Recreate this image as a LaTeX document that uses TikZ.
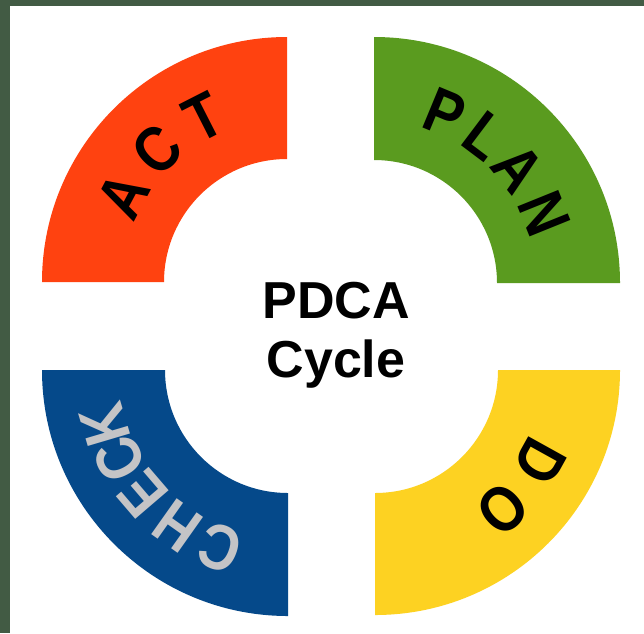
\documentclass[tikz,border=0pt]{standalone}
\usepackage{fontspec}
\setmainfont{Liberation Sans}
\usetikzlibrary{calc}
\definecolor{framec}{HTML}{425B44}
\definecolor{actc}{HTML}{FF4210}
\definecolor{planc}{HTML}{5A9B1F}
\definecolor{checkc}{HTML}{05498A}
\definecolor{doc}{HTML}{FDD222}
\definecolor{lettergray}{HTML}{C4C4C6}
\tikzset{
  darkletter/.style={font=\bfseries\fontsize{64}{64}\selectfont, inner sep=0pt, text=black},
  lightletter/.style={font=\bfseries\fontsize{64}{64}\selectfont, inner sep=0pt, text=lettergray},
  title/.style={font=\bfseries\fontsize{52}{52}\selectfont, inner sep=0pt, anchor=base}
}
\begin{document}
\begin{tikzpicture}[x=1pt,y=1pt]
\useasboundingbox (0,0) rectangle (644,-633);
\fill[white] (0,0) rectangle (644,-633);
\fill[framec] (0,0) rectangle (644,-6);
\fill[framec] (0,0) rectangle (10,-633);
% quadrants
\fill[actc, shift={(287,-282)}] (90:245) arc[start angle=90,end angle=180,radius=245] -- (180:123) arc[start angle=180,end angle=90,radius=123] -- cycle;
\fill[planc, shift={(374,-283)}] (0:246) arc[start angle=0,end angle=90,radius=246] -- (90:123) arc[start angle=90,end angle=0,radius=123] -- cycle;
\fill[checkc, shift={(288,-370)}] (180:246) arc[start angle=180,end angle=270,radius=246] -- (270:123) arc[start angle=270,end angle=180,radius=123] -- cycle;
\fill[doc, shift={(375,-370)}] (270:245) arc[start angle=270,end angle=360,radius=245] -- (0:123) arc[start angle=0,end angle=-90,radius=123] -- cycle;
% ACT
\foreach \ch/\ang/\nm in {A/152/a1, C/134.5/a2, T/117/a3}
  \node[darkletter, rotate=\ang-90, xscale=0.86] (\nm) at ($(287,-282)+(\ang:185)$) {\ch};
% PLAN
\foreach \ch/\ang/\nm in {P/67.5/p1, L/53/p2, A/38.5/p3, N/22/p4}
  \node[darkletter, rotate=\ang-90, xscale=0.86] (\nm) at ($(374,-283)+(\ang:184)$) {\ch};
% DO
\foreach \ch/\ang/\nm in {D/-29/d1, O/-47.5/d2}
  \node[darkletter, rotate=\ang-90, xscale=0.86] (\nm) at ($(375,-370)+(\ang:189)$) {\ch};
% CHECK
\foreach \ch/\ang/\nm in {C/249/c1, H/234.7/c2, E/220.6/c3, C/208/c4, K/196.5/c5}
  \node[lightletter, rotate=\ang-90, xscale=0.86] (\nm) at ($(288,-370)+(\ang:191)$) {\ch};
% centre title
\node[title] (t1) at (336,-318) {PDCA};
\node[title] (t2) at (336,-377) {Cycle};
\end{tikzpicture}
\end{document}
